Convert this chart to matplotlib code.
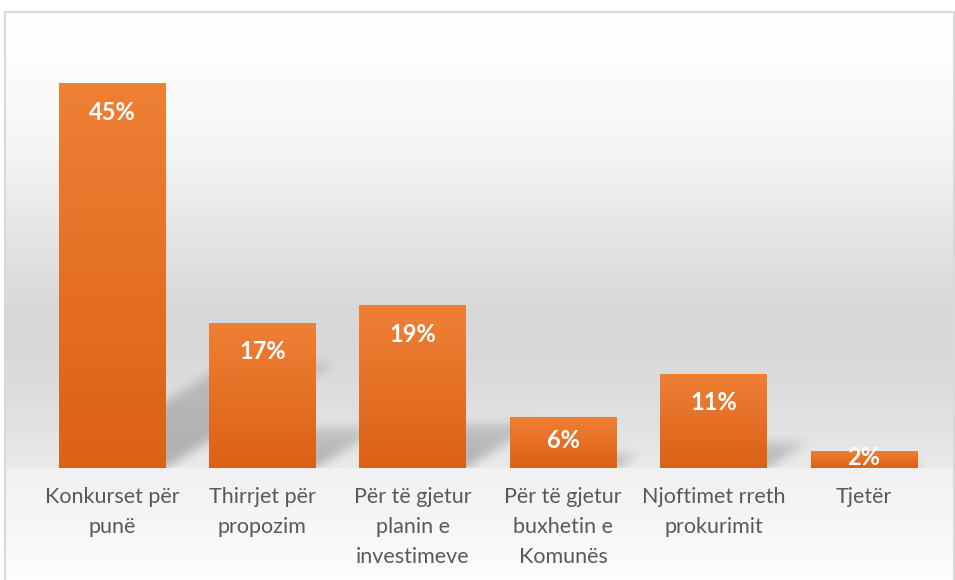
import numpy as np
import matplotlib
matplotlib.use("Agg")
import matplotlib.pyplot as plt
from matplotlib.patches import Rectangle
from matplotlib.colors import to_rgb

categories = ["Konkurset për\npunë", "Thirrjet për\npropozim",
              "Për të gjetur\nplanin e\ninvestimeve",
              "Për të gjetur\nbuxhetin e\nKomunës",
              "Njoftimet rreth\nprokurimit", "Tjetër"]
values = [45, 17, 19, 6, 11, 2]
value_labels = ["45%", "17%", "19%", "6%", "11%", "2%"]

W, H, DPI = 955, 580, 100
fig = plt.figure(figsize=(W / DPI, H / DPI), dpi=DPI)
fig.patch.set_facecolor("white")

# ---- background (wall + floor gradient) ----
bg = fig.add_axes([5 / W, 0, 950 / W, (H - 12) / H])
bg.set_axis_off()
ys = np.arange(12, 581)
stops_y = [12, 60, 150, 250, 310, 360, 420, 467, 469, 520, 580]
stops_g = [255, 253, 245, 226, 216, 217, 225, 234, 241, 246, 253]
g = np.interp(ys, stops_y, stops_g) / 255.0
img = np.repeat(g[:, None], 2, axis=1)
bg.imshow(np.dstack([img, img, img]), aspect="auto", extent=(0, 1, 0, 1),
          interpolation="bilinear")
bg.set_xlim(0, 1)
bg.set_ylim(0, 1)

# frame
fig.patches.append(Rectangle((5 / W, -0.01), 949 / W, (H - 12) / H + 0.01,
                             transform=fig.transFigure, fill=False,
                             edgecolor="#D9D9D9", lw=1.5, zorder=10))

# ---- main axes ----
left_px, right_px = 36.8, 939.2
base_px, top_px = 468, 40.2
ax = fig.add_axes([left_px / W, (H - base_px) / H, (right_px - left_px) / W,
                   (base_px - top_px) / H])
ax.patch.set_alpha(0)
ax.set_xlim(-0.5, len(values) - 0.5)
ax.set_ylim(0, 50)
for s in ax.spines.values():
    s.set_visible(False)
ax.set_yticks([])

x = np.arange(len(values))
bw = 0.711
bars = ax.bar(x, values, width=bw, color="none", edgecolor="none", zorder=3)

# ---- shadows ----
gw, gh = int(right_px - left_px), int(base_px - top_px)
gx = np.linspace(-0.5, len(values) - 0.5, gw)
gy = np.linspace(50, 0, gh)
XX, YY = np.meshgrid(gx, gy)
k = 0.62 * (gw / len(values)) / (gh / 50.0)  # data slope
mask = np.zeros_like(XX)
for b, v in zip(bars, values):
    xl, xr = b.get_x(), b.get_x() + b.get_width()
    sh = 0.27 * v
    xs = XX - YY / k
    m = (YY >= 0) & (YY <= sh) & (xs >= xl) & (xs <= xr)
    fade = 1 - 0.45 * np.clip(YY / max(sh, 1e-6), 0, 1)
    mask = np.maximum(mask, m * fade)
sig = 5.0
kern = np.exp(-0.5 * (np.arange(-15, 16) / sig) ** 2)
kern /= kern.sum()
mask = np.apply_along_axis(lambda r: np.convolve(r, kern, mode="same"), 1, mask)
mask = np.apply_along_axis(lambda c: np.convolve(c, kern, mode="same"), 0, mask)
shadow = np.zeros((gh, gw, 4))
shadow[..., 3] = 0.25 * mask
ax.imshow(shadow, extent=(-0.5, len(values) - 0.5, 0, 50), aspect="auto",
          zorder=1, interpolation="bilinear")

# ---- gradient bars ----
c_top = np.array(to_rgb("#EE8036"))
c_bot = np.array(to_rgb("#DB6116"))
t = np.linspace(0, 1, 64)[:, None]
grad = c_top[None, :] * (1 - t) + c_bot[None, :] * t
grad = np.repeat(grad[:, None, :], 2, axis=1)
for b in bars:
    im = ax.imshow(grad, extent=(b.get_x(), b.get_x() + b.get_width(), 0,
                                 b.get_height()),
                   aspect="auto", zorder=4, interpolation="bilinear")
    im.set_clip_path(b)

ax.set_xlim(-0.5, len(values) - 0.5)
ax.set_ylim(0, 50)

# value labels
for xi, v, lab in zip(x, values, value_labels):
    ypos = max(v - 3.4, v / 2 + 0.2)
    ax.text(xi, ypos, lab, ha="center", va="center", color="white",
            fontsize=17, fontweight="bold", family="Lato", zorder=6)

# category labels
ax.set_xticks(x)
ax.set_xticklabels(categories, fontsize=15.5, family="Lato", color="#595959",
                   linespacing=1.62, va="top")
ax.tick_params(axis="x", length=0, pad=14)

fig.savefig("out.png", dpi=DPI)
